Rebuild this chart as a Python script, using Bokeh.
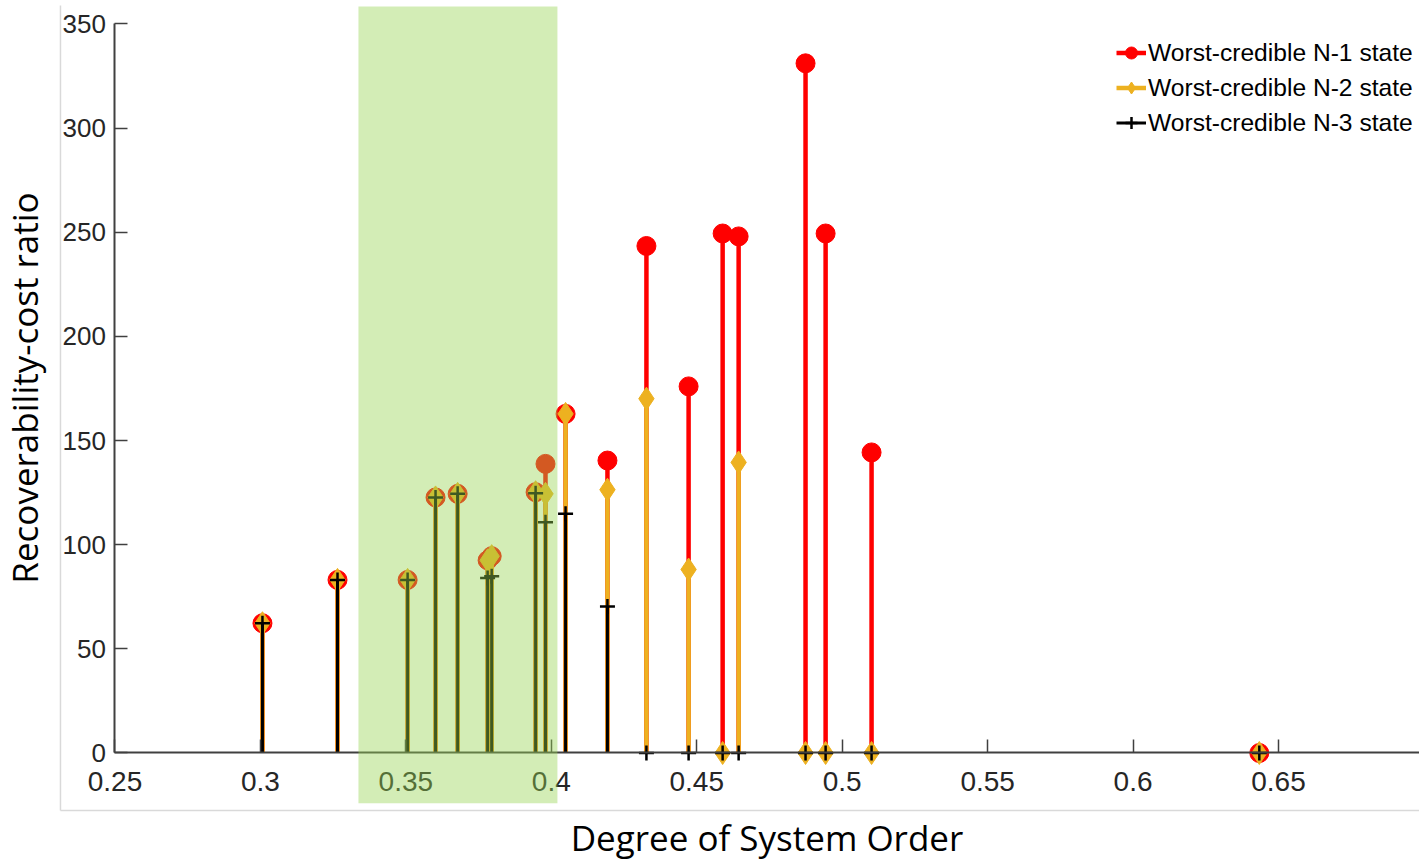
from bokeh.plotting import figure
from bokeh.models import Range1d, FixedTicker, Legend, LegendItem, ColumnDataSource
from bokeh.embed import file_html
from bokeh.resources import INLINE

# ---- data ----
x_pos = [0.3007, 0.3265, 0.3506, 0.3602, 0.3678, 0.3781, 0.3795, 0.3946, 0.3980,
         0.4049, 0.4193, 0.4327, 0.4472, 0.4589, 0.4644, 0.4874, 0.4943, 0.5101, 0.6434]
n1_vals = [62.3, 83.1, 83.1, 122.7, 124.4, 92.5, 94.5, 125.2, 138.8,
           162.8, 140.4, 243.4, 176.0, 249.4, 248.0, 331.1, 249.4, 144.3, 0.0]
n2_vals = [62.3, 83.1, 83.1, 122.7, 124.4, 92.5, 94.5, 125.2, 124.4,
           162.8, 126.4, 170.1, 88.1, 0.0, 139.5, 0.0, 0.0, 0.0, 0.0]
n3_vals = [62.3, 83.1, 83.1, 122.7, 124.4, 84.0, 84.8, 124.7, 110.8,
           114.8, 70.3, 0.0, 0.0, 0.0, 0.0, 0.0, 0.0, 0.0, 0.0]
series_labels = ["Worst-credible N-1 state", "Worst-credible N-2 state", "Worst-credible N-3 state"]
x_ticks = [0.25, 0.3, 0.35, 0.4, 0.45, 0.5, 0.55, 0.6, 0.65]
x_tick_labels = ["0.25", "0.3", "0.35", "0.4", "0.45", "0.5", "0.55", "0.6", "0.65"]
y_ticks = [0, 50, 100, 150, 200, 250, 300, 350]
highlight_x = [0.3337, 0.4021]
x_title = "Degree of System Order"
y_title = "Recoverability-cost ratio"

X_START, X_END = 0.21064, 0.69847
Y_START, Y_END = -51.13, 361.26

p = figure(width=1419, height=859,
           x_range=Range1d(X_START, X_END), y_range=Range1d(Y_START, Y_END),
           output_backend="svg", toolbar_location=None, min_border=0,
           outline_line_color=None, background_fill_color="white",
           border_fill_color="white")
p.grid.visible = False

# faint picture border (left and bottom)
p.segment(x0=[0.23126, 0.23126], y0=[358.9, -27.6], x1=[0.23126, X_END], y1=[-27.6, -27.6],
          line_color="#d9d9d9", line_width=1.5)

src = ColumnDataSource(dict(x=x_pos, zero=[0.0] * len(x_pos), n1=n1_vals, n2=n2_vals, n3=n3_vals))

RED, ORANGE, BLACK = "#ff0000", "#edb120", "#000000"
r1s = p.segment(x0="x", y0="zero", x1="x", y1="n1", source=src, line_color=RED, line_width=4.5)
r1m = p.scatter("x", "n1", source=src, marker="circle", size=19, fill_color=RED, line_color=RED)
r2s = p.segment(x0="x", y0="zero", x1="x", y1="n2", source=src, line_color=ORANGE, line_width=4.5)
r2m = p.scatter("x", "n2", source=src, marker="diamond", size=23, fill_color=ORANGE, line_color=ORANGE)
r3s = p.segment(x0="x", y0="zero", x1="x", y1="n3", source=src, line_color=BLACK, line_width=3)
r3m = p.scatter("x", "n3", source=src, marker="cross", size=15, line_color=BLACK, line_width=2.5)

# translucent green highlight drawn on top
p.quad(left=[highlight_x[0]], right=[highlight_x[1]], bottom=[-24.1], top=[358.4],
       fill_color="#96d450", fill_alpha=0.42, line_color=None, level="overlay")

# axes
xa = p.xaxis[0]
xa.fixed_location = 0
xa.bounds = (0.25, X_END)
xa.ticker = FixedTicker(ticks=x_ticks)
xa.major_label_overrides = dict(zip(x_ticks, x_tick_labels))
xa.major_label_standoff = 19
xa.major_label_text_font_size = "28px"
xa.axis_label = x_title
xa.axis_label_standoff = 20

ya = p.yaxis[0]
ya.fixed_location = 0.25
ya.bounds = (0, 350)
ya.ticker = FixedTicker(ticks=y_ticks)
ya.major_label_standoff = 9
ya.major_label_text_font_size = "26px"
ya.axis_label = y_title
ya.axis_label_standoff = 11

for ax in (xa, ya):
    ax.axis_line_color = "#404040"
    ax.axis_line_width = 2
    ax.major_tick_in = 13
    ax.major_tick_out = 0
    ax.major_tick_line_color = "#404040"
    ax.major_tick_line_width = 1.5
    ax.minor_tick_line_color = None
    ax.major_label_text_font = "Liberation Sans"
    ax.major_label_text_color = "#262626"
    ax.axis_label_text_font = "Open Sans"
    ax.axis_label_text_font_size = "35px"
    ax.axis_label_text_font_style = "normal"
    ax.axis_label_text_color = "#000000"

legend = Legend(items=[LegendItem(label=series_labels[0], renderers=[r1s, r1m]),
                       LegendItem(label=series_labels[1], renderers=[r2s, r2m]),
                       LegendItem(label=series_labels[2], renderers=[r3s, r3m])],
                location=(1116, 719), glyph_width=30, glyph_height=35, label_height=30,
                spacing=0, padding=0, margin=0, label_standoff=2,
                border_line_color=None, background_fill_alpha=0,
                label_text_font="Liberation Sans", label_text_font_size="24.6px",
                label_text_color="#000000")
p.add_layout(legend)

open("out.html", "w").write(file_html(p, INLINE))
